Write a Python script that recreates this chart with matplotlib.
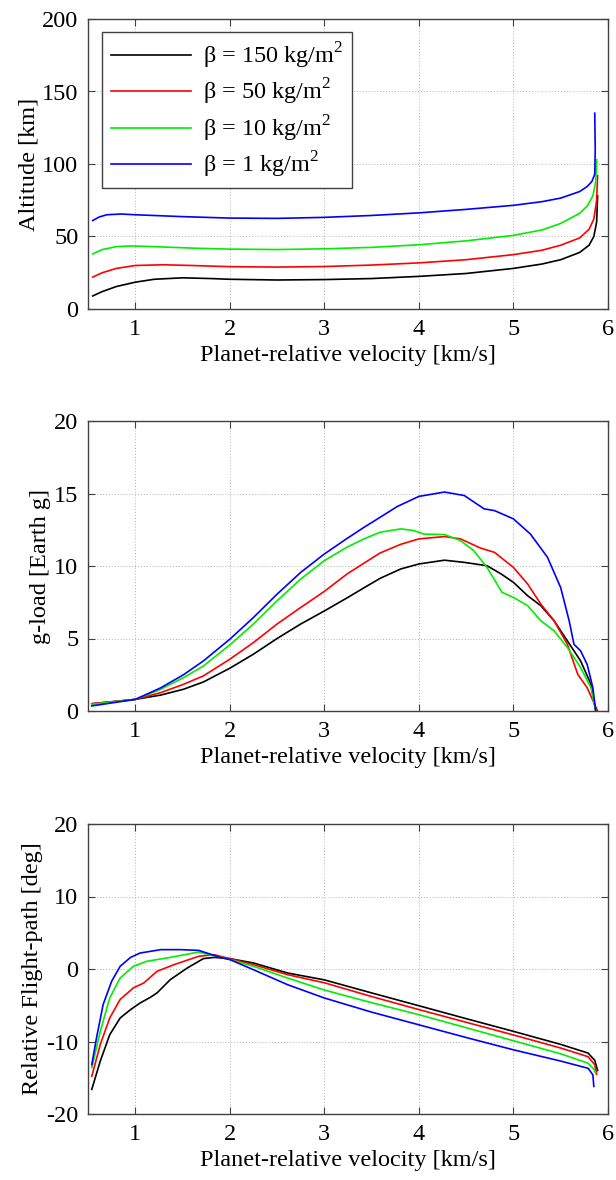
import matplotlib
matplotlib.use("Agg")
import matplotlib.pyplot as plt

plt.rcParams['font.family'] = ['Liberation Serif', 'DejaVu Serif']
plt.rcParams['mathtext.fontset'] = 'custom'
plt.rcParams['mathtext.rm'] = 'Liberation Serif'
plt.rcParams['axes.unicode_minus'] = False
FS = 17.5

# series labels and colours
labels = ["β = 150 kg/m$^2$", "β = 50 kg/m$^2$", "β = 10 kg/m$^2$", "β = 1 kg/m$^2$"]
colors = ["#000000", "#ff0000", "#00ee00", "#0000ff"]

# ALTITUDE [km] vs velocity [km/s]
alt_v_150 = [0.55, 0.65, 0.8, 1.0, 1.2, 1.5, 1.8, 2.0, 2.5, 3.0, 3.5, 4.0, 4.5, 5.0, 5.3, 5.5, 5.7, 5.8, 5.85, 5.88, 5.89]
alt_150 = [9, 12, 15.5, 18.5, 20.5, 21.5, 21, 20.5, 20, 20.3, 21, 22.5, 24.5, 28, 31, 34, 39, 44, 50, 60, 78]
alt_v_50 = [0.55, 0.65, 0.8, 1.0, 1.3, 1.6, 2.0, 2.5, 3.0, 3.5, 4.0, 4.5, 5.0, 5.3, 5.5, 5.7, 5.8, 5.85, 5.88, 5.89]
alt_50 = [22, 25, 28, 30, 30.5, 30, 29.2, 28.9, 29.3, 30.3, 31.8, 34, 37.5, 40.5, 44, 49, 55, 62, 75, 92]
alt_v_10 = [0.55, 0.65, 0.8, 0.95, 1.2, 1.6, 2.0, 2.5, 3.0, 3.5, 4.0, 4.5, 5.0, 5.3, 5.5, 5.7, 5.78, 5.84, 5.87, 5.88]
alt_10 = [38, 41, 43, 43.5, 43, 42, 41.3, 41, 41.5, 42.5, 44.3, 47, 50.8, 54.5, 59, 66, 71, 78, 88, 103]
alt_v_1 = [0.55, 0.62, 0.7, 0.85, 1.0, 1.5, 2.0, 2.5, 3.0, 3.5, 4.0, 4.5, 5.0, 5.3, 5.5, 5.7, 5.78, 5.83, 5.86, 5.865, 5.86]
alt_1 = [61, 63.5, 65, 65.5, 65, 63.7, 62.7, 62.5, 63.2, 64.5, 66.3, 68.7, 71.5, 74, 76.5, 81, 84.5, 88, 93, 110, 135]

# G-LOAD [Earth g]
g_v_150 = [0.54, 1.0, 1.27, 1.51, 1.72, 2.0, 2.25, 2.5, 2.75, 3.0, 3.24, 3.42, 3.59, 3.81, 4.0, 4.27,
           4.48, 4.72, 4.87, 5.0, 5.15, 5.29, 5.43, 5.57, 5.71, 5.82, 5.87]
g_150 = [0.5, 0.8, 1.1, 1.5, 2.0, 2.95, 3.92, 5.0, 6.0, 6.9, 7.8, 8.5, 9.15, 9.8, 10.14, 10.4,
         10.25, 10.02, 9.45, 8.87, 7.95, 7.26, 6.22, 4.84, 3.46, 1.84, 0]
g_v_50 = [0.54, 1.0, 1.27, 1.51, 1.72, 2.0, 2.25, 2.5, 2.75, 3.0, 3.24, 3.42, 3.59, 3.81, 4.0, 4.27,
          4.44, 4.65, 4.8, 5.0, 5.15, 5.29, 5.43, 5.57, 5.68, 5.78, 5.89]
g_50 = [0.5, 0.8, 1.27, 1.84, 2.42, 3.57, 4.72, 6.0, 7.14, 8.25, 9.45, 10.2, 10.9, 11.5, 11.87, 12.03,
        11.87, 11.24, 10.94, 9.9, 8.76, 7.37, 6.22, 4.6, 2.53, 1.6, 0]
g_v_10 = [0.54, 1.0, 1.27, 1.51, 1.72, 2.0, 2.25, 2.5, 2.75, 3.0, 3.24, 3.42, 3.59, 3.81, 3.95, 4.05,
          4.27, 4.44, 4.58, 4.72, 4.88, 5.0, 5.15, 5.29, 5.43, 5.57, 5.71, 5.82, 5.87]
g_10 = [0.46, 0.8, 1.5, 2.3, 3.1, 4.56, 6.0, 7.6, 9.1, 10.37, 11.3, 11.87, 12.33, 12.56, 12.44, 12.2,
        12.17, 11.75, 11.06, 9.9, 8.18, 7.83, 7.26, 6.22, 5.53, 4.38, 3.0, 1.6, 0]
g_v_1 = [0.54, 1.0, 1.27, 1.51, 1.72, 2.0, 2.25, 2.5, 2.75, 3.0, 3.24, 3.42, 3.59, 3.77, 4.0, 4.27,
         4.48, 4.69, 4.8, 5.0, 5.18, 5.36, 5.5, 5.59, 5.64, 5.71, 5.78, 5.84, 5.87]
g_1 = [0.35, 0.8, 1.6, 2.5, 3.45, 4.95, 6.45, 8.06, 9.56, 10.83, 11.9, 12.67, 13.36, 14.1, 14.8, 15.1,
       14.86, 13.94, 13.82, 13.25, 12.2, 10.6, 8.5, 6.2, 4.6, 4.15, 3.2, 1.6, 0]

# RELATIVE FLIGHT-PATH ANGLE [deg]
fp_v_150 = [0.54, 0.63, 0.73, 0.84, 0.95, 1.05, 1.16, 1.23, 1.37, 1.55, 1.72, 1.83, 2.0, 2.25, 2.61,
            3.0, 3.5, 4.0, 4.5, 5.0, 5.5, 5.79, 5.86, 5.89]
fp_150 = [-16.6, -12.7, -9.06, -6.76, -5.6, -4.7, -3.9, -3.3, -1.47, 0.14, 1.43, 1.6, 1.43, 0.83, -0.55,
          -1.5, -3.3, -5.07, -6.85, -8.6, -10.4, -11.6, -12.6, -14]
fp_v_50 = [0.54, 0.63, 0.73, 0.84, 0.98, 1.09, 1.23, 1.41, 1.67, 1.83, 2.0, 2.25, 2.61,
           3.0, 3.5, 4.0, 4.5, 5.0, 5.5, 5.79, 5.86, 5.88]
fp_50 = [-14.8, -10.4, -6.76, -4.2, -2.6, -1.93, -0.32, 0.6, 1.75, 1.98, 1.43, 0.6, -0.78,
         -1.9, -3.8, -5.6, -7.35, -9.1, -10.9, -12.1, -13.2, -14.5]
fp_v_10 = [0.54, 0.63, 0.73, 0.84, 0.98, 1.12, 1.37, 1.67, 2.0, 2.25, 2.61,
           3.0, 3.5, 4.0, 4.5, 5.0, 5.5, 5.79, 5.85, 5.87]
fp_10 = [-13.6, -8.6, -4.0, -1.24, 0.37, 1.06, 1.6, 2.34, 1.3, 0.37, -1.24,
         -2.9, -4.65, -6.3, -8.1, -9.9, -11.7, -13, -13.8, -14.4]
fp_v_1 = [0.54, 0.59, 0.66, 0.75, 0.84, 0.95, 1.05, 1.27, 1.48, 1.67, 1.9, 2.0, 2.25, 2.61,
          3.0, 3.5, 4.0, 4.5, 5.0, 5.5, 5.79, 5.84, 5.85]
fp_1 = [-13.2, -9.5, -4.9, -1.7, 0.37, 1.6, 2.2, 2.67, 2.67, 2.57, 1.6, 1.3, -0.1, -2.16,
        -4.0, -5.95, -7.7, -9.45, -11.15, -12.7, -13.7, -14.6, -16.2]

panels = [
    ([(alt_v_150, alt_150), (alt_v_50, alt_50), (alt_v_10, alt_10), (alt_v_1, alt_1)],
     "Altitude [km]", (0, 200), [0, 50, 100, 150, 200]),
    ([(g_v_150, g_150), (g_v_50, g_50), (g_v_10, g_10), (g_v_1, g_1)],
     "g-load [Earth g]", (0, 20), [0, 5, 10, 15, 20]),
    ([(fp_v_150, fp_150), (fp_v_50, fp_50), (fp_v_10, fp_10), (fp_v_1, fp_1)],
     "Relative Flight-path [deg]", (-20, 20), [-20, -10, 0, 10, 20]),
]

fig = plt.figure(figsize=(6.16, 11.8), dpi=100)

# axes boxes in pixels: top, bottom
boxes = [(19, 309), (421, 711), (824, 1114)]
left, right = 88, 608
W, H = 616, 1180

for i, (series, ylabel, ylim, yticks) in enumerate(panels):
    top, bottom = boxes[i]
    ax = fig.add_axes([left / W, 1 - bottom / H, (right - left) / W, (bottom - top) / H])
    for (v, y), c, lab in zip(series, colors, labels):
        ax.plot(v, y, color=c, lw=1.2, label=lab)
    ax.set_xlim(0.5, 6)
    ax.set_ylim(*ylim)
    ax.set_xticks([1, 2, 3, 4, 5, 6])
    ax.set_yticks(yticks)
    ax.grid(True, linestyle=(0, (1, 2)), color="#b0b0b0", linewidth=0.7)
    ax.tick_params(direction="in", top=True, right=True, length=5, width=0.8,
                   color="#404040", labelsize=FS, pad=7)
    for s in ax.spines.values():
        s.set_color("#404040")
        s.set_linewidth(1.0)
    ax.set_xlabel("Planet-relative velocity [km/s]", fontsize=FS, labelpad=4)
    ax.set_ylabel(ylabel, fontsize=FS, labelpad=2)
    if i == 0:
        leg = ax.legend(loc="upper left", bbox_to_anchor=(0.027, 0.955), fontsize=FS,
                        fancybox=False, framealpha=1, edgecolor="#404040",
                        handlelength=3.3, handletextpad=0.5, labelspacing=0.25,
                        borderpad=0.35, borderaxespad=0)
        leg.get_frame().set_linewidth(1.0)

fig.savefig("out.png", dpi=100)
